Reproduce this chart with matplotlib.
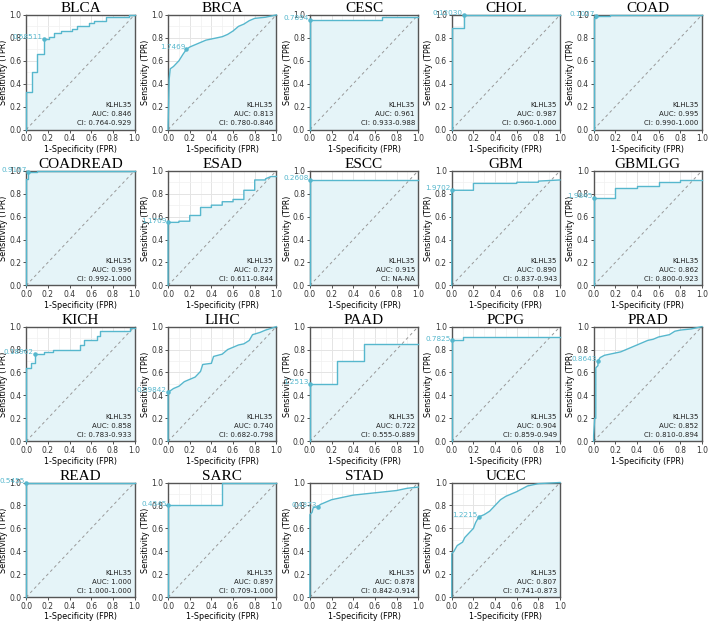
"""
KLHL35 pan-cancer ROC panels
"""
import matplotlib
matplotlib.use("Agg")
import matplotlib.pyplot as plt
from matplotlib.ticker import MultipleLocator

# ---- data: ROC vertices ----
cancers = ["BLCA", "BRCA", "CESC", "CHOL", "COAD",
           "COADREAD", "ESAD", "ESCC", "GBM", "GBMLGG",
           "KICH", "LIHC", "PAAD", "PCPG", "PRAD",
           "READ", "SARC", "STAD", "UCEC"]

fpr = {
    "BLCA": [0, 0, 0.05, 0.05, 0.1, 0.1, 0.16, 0.16, 0.21, 0.21, 0.26, 0.26, 0.32, 0.32,
             0.42, 0.42, 0.47, 0.47, 0.58, 0.58, 0.63, 0.63, 0.74, 0.74, 0.95, 0.95, 1],
    "BRCA": [0, 0, 0.01, 0.02, 0.05, 0.08, 0.1, 0.12, 0.14, 0.17, 0.2, 0.25, 0.3, 0.35,
             0.4, 0.45, 0.5, 0.55, 0.6, 0.65, 0.7, 0.75, 0.8, 0.9, 0.95, 1],
    "CESC": [0, 0, 0.67, 0.67, 1],
    "CHOL": [0, 0, 0.11, 0.11, 1],
    "COAD": [0, 0, 0.02, 0.02, 0.15, 0.15, 1],
    "COADREAD": [0, 0, 0.02, 0.02, 0.1, 0.1, 1],
    "ESAD": [0, 0, 0.1, 0.1, 0.2, 0.2, 0.3, 0.3, 0.4, 0.4, 0.5, 0.5, 0.6, 0.6, 0.7, 0.7,
             0.8, 0.8, 0.9, 0.9, 0.95, 1],
    "ESCC": [0, 0, 1],
    "GBM": [0, 0, 0.2, 0.2, 0.6, 0.6, 0.8, 0.8, 1],
    "GBMLGG": [0, 0, 0.2, 0.2, 0.4, 0.4, 0.6, 0.6, 0.8, 0.8, 1],
    "KICH": [0, 0, 0.04, 0.04, 0.08, 0.08, 0.16, 0.16, 0.25, 0.25, 0.5, 0.5, 0.53, 0.53,
             0.65, 0.65, 0.68, 0.68, 0.96, 0.96, 1],
    "LIHC": [0, 0, 0.02, 0.05, 0.1, 0.15, 0.2, 0.25, 0.3, 0.32, 0.4, 0.42, 0.5, 0.55, 0.6,
             0.65, 0.7, 0.75, 0.78, 0.85, 0.9, 1],
    "PAAD": [0, 0, 0.25, 0.25, 0.5, 0.5, 1],
    "PCPG": [0, 0, 0.1, 0.1, 1],
    "PRAD": [0, 0, 0.01, 0.02, 0.02, 0.04, 0.04, 0.06, 0.1, 0.15, 0.2, 0.25, 0.3, 0.35,
             0.4, 0.45, 0.5, 0.55, 0.6, 0.65, 0.7, 0.75, 0.8, 0.9, 1],
    "READ": [0, 0, 1],
    "SARC": [0, 0, 0.5, 0.5, 1],
    "STAD": [0, 0, 0.02, 0.03, 0.07, 0.1, 0.15, 0.2, 0.3, 0.4, 0.5, 0.6, 0.7, 0.8, 0.9, 1],
    "UCEC": [0, 0, 0.02, 0.05, 0.1, 0.12, 0.15, 0.2, 0.22, 0.25, 0.3, 0.35, 0.4, 0.45,
             0.5, 0.6, 0.7, 0.8, 1],
}
tpr = {
    "BLCA": [0, 0.33, 0.33, 0.5, 0.5, 0.66, 0.66, 0.79, 0.79, 0.81, 0.81, 0.84, 0.84, 0.86,
             0.86, 0.88, 0.88, 0.9, 0.9, 0.93, 0.93, 0.95, 0.95, 0.98, 0.98, 1, 1],
    "BRCA": [0, 0.02, 0.44, 0.53, 0.55, 0.58, 0.6, 0.63, 0.66, 0.7, 0.72, 0.74, 0.76, 0.78,
             0.79, 0.8, 0.81, 0.83, 0.86, 0.9, 0.92, 0.95, 0.97, 0.98, 0.99, 1],
    "CESC": [0, 0.96, 0.96, 0.98, 0.98],
    "CHOL": [0, 0.89, 0.89, 1, 1],
    "COAD": [0, 0.97, 0.97, 0.99, 0.99, 1, 1],
    "COADREAD": [0, 0.93, 0.93, 0.99, 0.99, 1, 1],
    "ESAD": [0, 0.55, 0.55, 0.56, 0.56, 0.61, 0.61, 0.68, 0.68, 0.7, 0.7, 0.73, 0.73, 0.75,
             0.75, 0.83, 0.83, 0.92, 0.92, 0.93, 0.95, 0.95],
    "ESCC": [0, 0.92, 0.92],
    "GBM": [0, 0.83, 0.83, 0.89, 0.89, 0.9, 0.9, 0.91, 0.92],
    "GBMLGG": [0, 0.76, 0.76, 0.85, 0.85, 0.87, 0.87, 0.9, 0.9, 0.92, 0.92],
    "KICH": [0, 0.64, 0.64, 0.68, 0.68, 0.76, 0.76, 0.78, 0.78, 0.8, 0.8, 0.84, 0.84, 0.88,
             0.88, 0.92, 0.92, 0.96, 0.96, 0.99, 0.99],
    "LIHC": [0, 0.43, 0.44, 0.46, 0.48, 0.52, 0.54, 0.56, 0.61, 0.67, 0.68, 0.74, 0.76, 0.8,
             0.82, 0.84, 0.85, 0.88, 0.93, 0.95, 0.97, 1],
    "PAAD": [0, 0.5, 0.5, 0.7, 0.7, 0.85, 0.85],
    "PCPG": [0, 0.88, 0.88, 0.91, 0.91],
    "PRAD": [0, 0.05, 0.2, 0.2, 0.64, 0.66, 0.7, 0.73, 0.75, 0.76, 0.77, 0.78, 0.8, 0.82,
             0.84, 0.86, 0.88, 0.89, 0.91, 0.92, 0.93, 0.96, 0.97, 0.98, 1],
    "READ": [0, 1, 1],
    "SARC": [0, 0.8, 0.8, 1, 1],
    "STAD": [0, 0.72, 0.74, 0.78, 0.79, 0.81, 0.83, 0.85, 0.87, 0.89, 0.9, 0.91, 0.92, 0.93,
             0.95, 0.96],
    "UCEC": [0, 0.38, 0.4, 0.45, 0.48, 0.52, 0.55, 0.6, 0.65, 0.7, 0.72, 0.75, 0.8, 0.85,
             0.88, 0.92, 0.97, 0.99, 1],
}

# best cutoff: (fpr, tpr, threshold label)
cut_x = [0.16, 0.17, 0.0, 0.11, 0.02, 0.02, 0.0, 0.0, 0.0, 0.0,
         0.08, 0.0, 0.0, 0.0, 0.04, 0.0, 0.0, 0.07, 0.25]
cut_y = [0.79, 0.70, 0.96, 1.0, 0.99, 0.99, 0.55, 0.92, 0.83, 0.76,
         0.76, 0.43, 0.5, 0.88, 0.70, 1.0, 0.8, 0.79, 0.70]
cut_lab = ["0.58511", "1.7469", "0.7894", "0.12030", "0.1027", "0.9107", "1.1709",
           "0.2608", "1.9702", "1.9845", "0.18962", "0.09842", "1.2513", "0.7825",
           "0.8643", "0.5455", "0.4345", "0.4373", "1.2215"]

auc = ["0.846", "0.813", "0.961", "0.987", "0.995", "0.996", "0.727", "0.915", "0.890",
       "0.862", "0.858", "0.740", "0.722", "0.904", "0.852", "1.000", "0.897", "0.878",
       "0.807"]
ci = ["0.764-0.929", "0.780-0.846", "0.933-0.988", "0.960-1.000", "0.990-1.000",
      "0.992-1.000", "0.611-0.844", "NA-NA", "0.837-0.943", "0.800-0.923",
      "0.783-0.933", "0.682-0.798", "0.555-0.889", "0.859-0.949", "0.810-0.894",
      "1.000-1.000", "0.709-1.000", "0.842-0.914", "0.741-0.873"]

gene = "KLHL35"
LINE = "#56b7cd"
FILL = "#e5f4f8"

fig, axes = plt.subplots(4, 5, figsize=(7.09, 6.22), dpi=100)
fig.subplots_adjust(left=0.037, right=0.99, top=0.976, bottom=0.04,
                    wspace=0.31, hspace=0.36)

for i, ax in enumerate(axes.flat):
    if i >= len(cancers):
        ax.axis("off")
        continue
    name = cancers[i]
    x, y = fpr[name], tpr[name]

    ax.fill_between(x, y, 0, color=FILL, lw=0, zorder=1)
    ax.plot([0, 1], [0, 1], ls=(0, (3, 3)), color="#999999", lw=0.7, zorder=2)
    ax.plot(x, y, color=LINE, lw=1.0, zorder=3, clip_on=False)
    ax.scatter([cut_x[i]], [cut_y[i]], s=5, color=LINE, zorder=4, clip_on=False)
    ax.text(cut_x[i] - 0.01, cut_y[i] - 0.01, cut_lab[i], color=LINE, fontsize=5.2,
            ha="right", va="bottom", zorder=5)

    ax.text(0.97, 0.03, f"{gene}\nAUC: {auc[i]}\nCI: {ci[i]}", transform=ax.transAxes,
            ha="right", va="bottom", fontsize=5, linespacing=1.6, color="#222222")

    ax.set_xlim(0, 1)
    ax.set_ylim(0, 1)
    ax.xaxis.set_major_locator(MultipleLocator(0.2))
    ax.yaxis.set_major_locator(MultipleLocator(0.2))
    ax.xaxis.set_minor_locator(MultipleLocator(0.1))
    ax.yaxis.set_minor_locator(MultipleLocator(0.1))
    ax.grid(which="major", color="#e4e4e4", lw=0.7, zorder=0)
    ax.grid(which="minor", color="#f0f0f0", lw=0.5, zorder=0)
    ax.set_axisbelow(True)
    ax.tick_params(which="major", labelsize=5.5, length=2, width=0.6, pad=1.5,
                   colors="#333333")
    ax.tick_params(which="minor", length=0)
    for sp in ax.spines.values():
        sp.set_color("#555555")
        sp.set_linewidth(1.0)

    ax.set_title(name, fontsize=11, family="Liberation Serif", pad=2)
    ax.set_xlabel("1-Specificity (FPR)", fontsize=5.8, labelpad=1)
    ax.set_ylabel("Sensitivity (TPR)", fontsize=5.8, labelpad=1)

fig.savefig("out.png", dpi=100)
